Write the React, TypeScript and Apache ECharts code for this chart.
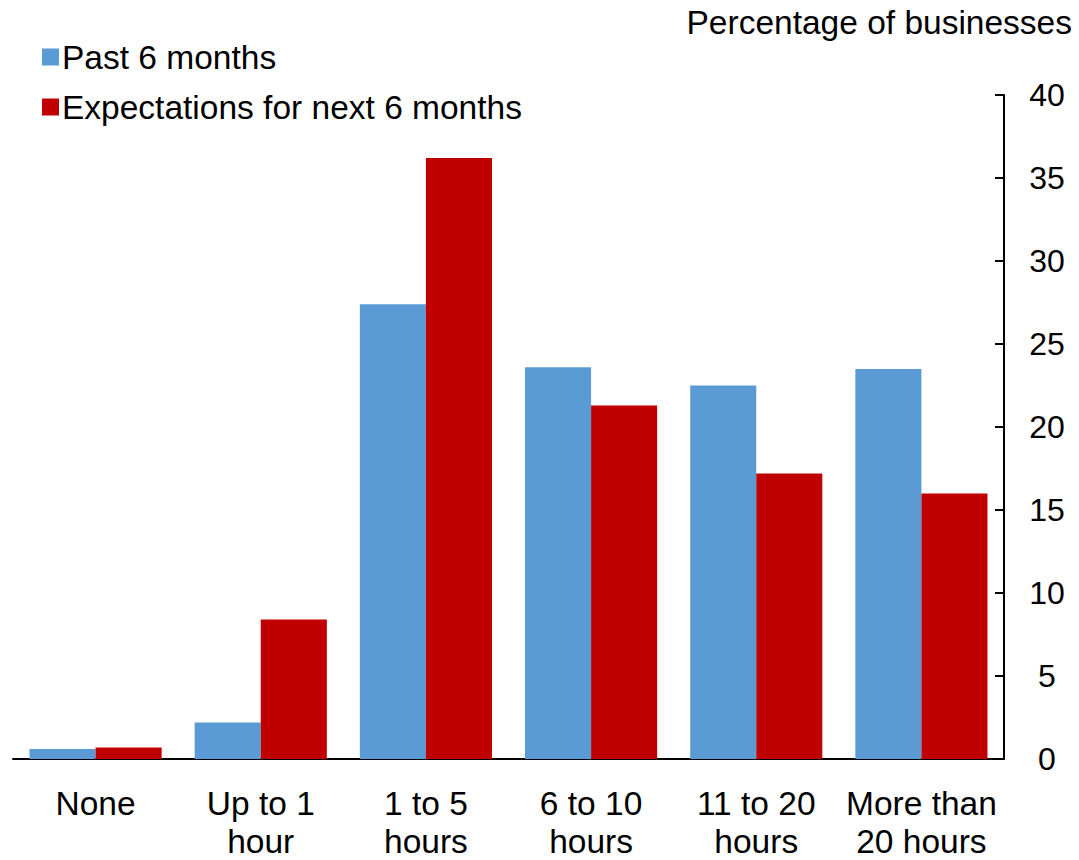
import React, { useEffect, useRef } from 'react';
import * as echarts from 'echarts';

const categories = ['None', 'Up to 1\nhour', '1 to 5\nhours', '6 to 10\nhours', '11 to 20\nhours', 'More than\n20 hours'];
const pastSixMonths = [0.6, 2.2, 27.4, 23.6, 22.5, 23.5];
const nextSixMonths = [0.7, 8.4, 36.2, 21.3, 17.2, 16.0];
const seriesNames = ['Past 6 months', 'Expectations for next 6 months'];
const axisTitle = 'Percentage of businesses';

const FONT = '"Liberation Sans", Arial, sans-serif';

const App: React.FC = () => {
  const chartRef = useRef<HTMLDivElement>(null);

  useEffect(() => {
    if (!chartRef.current) return;
    const chart = echarts.init(chartRef.current, null, { renderer: 'svg' });
    chart.setOption({
      animation: false,
      textStyle: { fontFamily: FONT, color: '#000' },
      grid: { left: 13, right: 75, top: 95, bottom: 96, containLabel: false },
      legend: {
        orient: 'vertical',
        left: 37,
        top: 35,
        itemWidth: 17,
        itemHeight: 17,
        itemGap: 16,
        icon: 'rect',
        textStyle: { fontFamily: FONT, fontSize: 33.5, color: '#000', padding: [0, 0, 0, -2] },
        data: seriesNames,
      },
      graphic: [
        {
          type: 'text',
          right: 7,
          top: 5,
          style: { text: axisTitle, font: `33.5px ${FONT}`, fill: '#000' },
        },
      ],
      xAxis: {
        type: 'category',
        data: categories,
        axisLine: { lineStyle: { color: '#000', width: 2 } },
        axisTick: { inside: true, length: 10, lineStyle: { color: '#000', width: 2 } },
        axisLabel: { fontFamily: FONT, fontSize: 33.5, color: '#000', margin: 25, lineHeight: 38, interval: 0 },
      },
      yAxis: {
        type: 'value',
        position: 'right',
        min: 0,
        max: 40,
        interval: 5,
        splitLine: { show: false },
        axisLine: { show: true, lineStyle: { color: '#000', width: 2 } },
        axisTick: { show: true, inside: true, length: 9, lineStyle: { color: '#000', width: 2 } },
        axisLabel: { fontFamily: FONT, fontSize: 32, color: '#000', margin: 43, align: 'center' },
      },
      series: [
        {
          name: seriesNames[0],
          type: 'bar',
          data: pastSixMonths,
          itemStyle: { color: '#5B9BD5' },
          barGap: '0%',
          barCategoryGap: '20%',
        },
        {
          name: seriesNames[1],
          type: 'bar',
          data: nextSixMonths,
          itemStyle: { color: '#C00000' },
          barGap: '0%',
          barCategoryGap: '20%',
        },
      ],
    });
    return () => {
      chart.dispose();
    };
  }, []);

  return (
    <div
      ref={chartRef}
      style={{ position: 'fixed', left: 0, top: 0, width: 1079, height: 860, background: '#fff' }}
    />
  );
};

export default App;
